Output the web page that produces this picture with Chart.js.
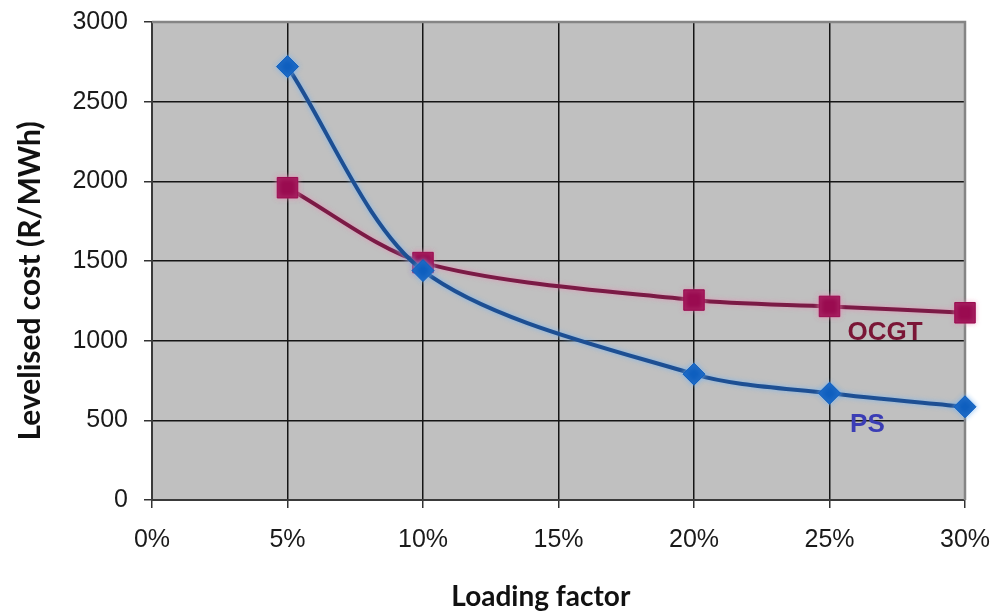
<!DOCTYPE html>
<html>
<head>
<meta charset="utf-8">
<script src="https://cdn.jsdelivr.net/npm/chart.js@4/dist/chart.umd.min.js"></script>
<style>
  html, body { margin: 0; padding: 0; background: #ffffff; }
  #wrap { width: 997px; height: 611px; position: relative; }
</style>
</head>
<body>
<div id="wrap"><canvas id="chart" width="997" height="611"></canvas></div>
<script>
// Loading factor (%) at which each technology was costed
const loadingFactor = [5, 10, 20, 25, 30];
// Levelised cost, R/MWh
const psCost   = [2720, 1440, 790, 670, 585];
const ocgtCost = [1960, 1490, 1255, 1215, 1175];
// Axis ranges and tick spacing
const xTicks = [0, 5, 10, 15, 20, 25, 30];
const yTicks = [0, 500, 1000, 1500, 2000, 2500, 3000];
// Series name labels placed beside the curves (x in %, y in R/MWh)
const seriesLabels = [
  { text: 'OCGT', x: 27.05, y: 1050, color: '#7a1636' },
  { text: 'PS',   x: 26.4,  y: 470,  color: '#3b3db5' }
];
const xTitle = 'Loading factor';
const yTitle = 'Levelised cost (R/MWh)';

const toPoints = (xs, ys) => xs.map((x, i) => ({ x: x, y: ys[i] }));

// Grey plot background and frame (drawn beneath the series)
const plotFrame = {
  id: 'plotFrame',
  beforeDraw(chart) {
    const { ctx, chartArea: a } = chart;
    ctx.save();
    ctx.fillStyle = '#c0c0c0';
    ctx.fillRect(a.left, a.top, a.right - a.left, a.bottom - a.top);
    ctx.restore();
  },
  beforeDatasetsDraw(chart) {
    const { ctx, chartArea: a } = chart;
    ctx.save();
    ctx.strokeStyle = '#858585';
    ctx.lineWidth = 2.5;
    ctx.beginPath();
    ctx.moveTo(a.left, a.top);
    ctx.lineTo(a.right, a.top);
    ctx.lineTo(a.right, a.bottom);
    ctx.stroke();
    ctx.restore();
  }
};

// Soft halo around each curve
const lineGlow = {
  id: 'lineGlow',
  beforeDatasetDraw(chart, args) {
    const ctx = chart.ctx;
    ctx.save();
    ctx.shadowColor = args.index === 0 ? 'rgba(120,180,240,0.9)' : 'rgba(230,140,180,0.8)';
    ctx.shadowBlur = 5;
  },
  afterDatasetDraw(chart) {
    chart.ctx.restore();
  }
};

// Inline series names and axis titles
const textLabels = {
  id: 'textLabels',
  afterDatasetsDraw(chart) {
    const { ctx, scales, chartArea: a } = chart;
    ctx.save();
    ctx.font = 'bold 26px "Liberation Sans", Arial, sans-serif';
    ctx.textAlign = 'center';
    ctx.textBaseline = 'middle';
    seriesLabels.forEach(l => {
      ctx.fillStyle = l.color;
      ctx.fillText(l.text, scales.x.getPixelForValue(l.x), scales.y.getPixelForValue(l.y));
    });

    ctx.fillStyle = '#111111';
    ctx.font = 'bold 28px Lato, "Open Sans", sans-serif';
    ctx.fillText(xTitle, scales.x.getPixelForValue(14.35), a.bottom + 97);

    ctx.translate(30, scales.y.getPixelForValue(1375));
    ctx.rotate(-Math.PI / 2);
    ctx.font = 'bold 30px Lato, "Open Sans", sans-serif';
    ctx.fillText(yTitle, 0, 0);
    ctx.restore();
  }
};

new Chart(document.getElementById('chart'), {
  type: 'line',
  data: {
    datasets: [
      {
        label: 'PS',
        data: toPoints(loadingFactor, psCost),
        borderColor: '#1d4f93',
        borderWidth: 4,
        tension: 0.3,
        pointStyle: 'rectRot',
        pointRadius: 11,
        pointHoverRadius: 11,
        pointBackgroundColor: '#0f5fbf',
        pointBorderColor: '#0f5fbf',
        pointBorderWidth: 1
      },
      {
        label: 'OCGT',
        data: toPoints(loadingFactor, ocgtCost),
        borderColor: '#7b1a45',
        borderWidth: 4,
        tension: 0.3,
        pointStyle: 'rect',
        pointRadius: 14.5,
        pointHoverRadius: 14.5,
        pointBackgroundColor: '#9a0b50',
        pointBorderColor: '#9a0b50',
        pointBorderWidth: 1
      }
    ]
  },
  options: {
    responsive: false,
    animation: false,
    events: [],
    clip: false,
    layout: { padding: { top: 22, right: 32, left: 0, bottom: 0 } },
    plugins: {
      legend: { display: false },
      tooltip: { enabled: false }
    },
    scales: {
      x: {
        type: 'linear',
        min: 0,
        max: 30,
        afterBuildTicks(scale) { scale.ticks = xTicks.map(v => ({ value: v })); },
        afterFit(scale) {
          scale.height = 111;
          scale.paddingLeft = 0;
          scale.paddingRight = 0;
        },
        ticks: {
          color: '#1a1a1a',
          padding: 17,
          maxRotation: 0,
          font: { family: '"Liberation Sans", Arial, sans-serif', size: 25 },
          callback: v => v + '%'
        },
        grid: { color: '#151515', lineWidth: 1.5, tickLength: 8, tickColor: '#333333' },
        border: { color: '#3a3a3a', width: 2 }
      },
      y: {
        min: 0,
        max: 3000,
        afterBuildTicks(scale) { scale.ticks = yTicks.map(v => ({ value: v })); },
        afterFit(scale) {
          scale.width = 152;
          scale.paddingTop = 0;
          scale.paddingBottom = 0;
        },
        ticks: {
          color: '#1a1a1a',
          padding: 16,
          font: { family: '"Liberation Sans", Arial, sans-serif', size: 25 },
          callback: v => String(v)
        },
        grid: { color: '#151515', lineWidth: 1.5, tickLength: 8, tickColor: '#333333' },
        border: { color: '#3a3a3a', width: 2 }
      }
    }
  },
  plugins: [plotFrame, lineGlow, textLabels]
});
</script>
</body>
</html>
